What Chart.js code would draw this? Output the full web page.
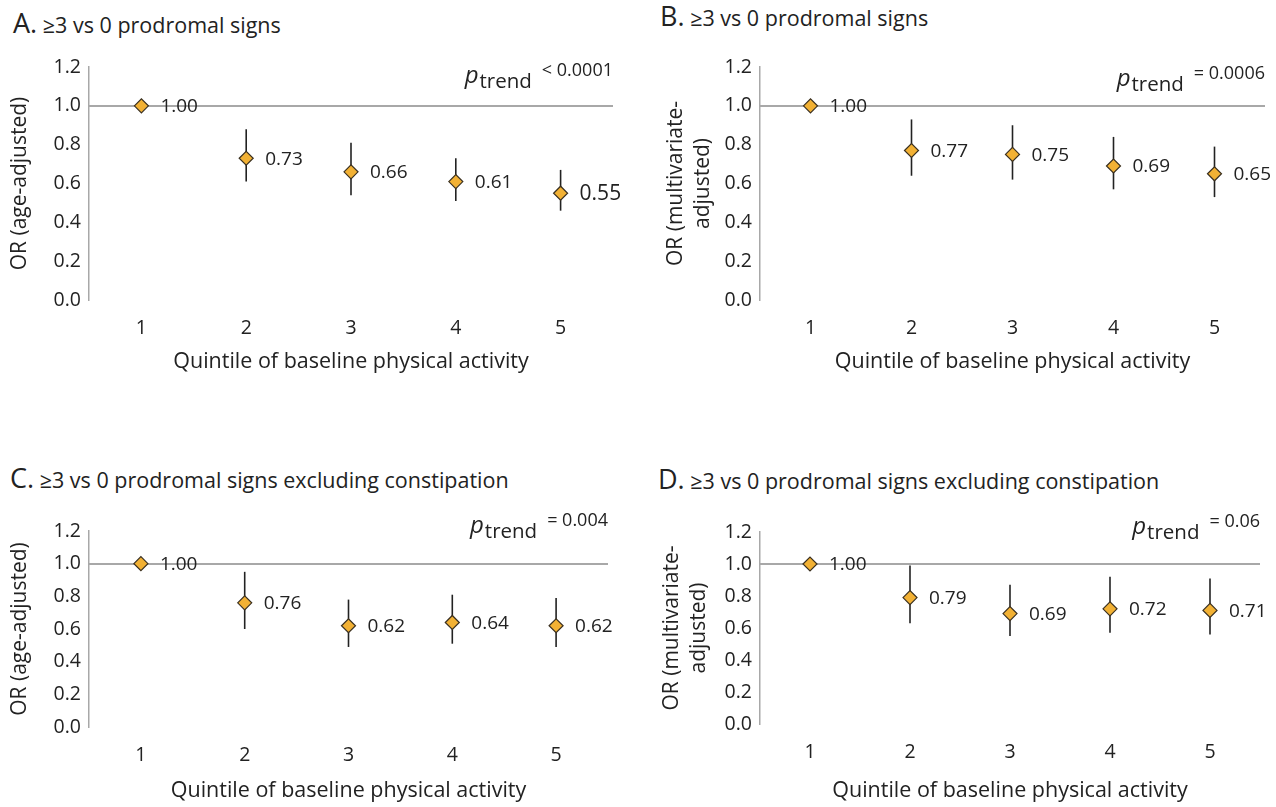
<!DOCTYPE html>
<html>
<head>
<meta charset="utf-8">
<script src="https://cdn.jsdelivr.net/npm/chart.js@4.4.1/dist/chart.umd.min.js"></script>
<style>
  body { margin: 0; background: #fff; font-family: "Open Sans", sans-serif; }
  #page { position: relative; width: 1276px; height: 807px; overflow: hidden; }
  .panel-title { position: absolute; color: #222; font-size: 21.5px; line-height: 1; white-space: nowrap; }
  .panel-title b { font-weight: normal; font-size: 27px; }
  .box { position: absolute; }
</style>
</head>
<body>
<div id="page"></div>
<script>
// quintile categories and y ticks
const quintiles = [1, 2, 3, 4, 5];
const yTicks = [0.0, 0.2, 0.4, 0.6, 0.8, 1.0, 1.2];
const referenceOR = 1.0;

// A. >=3 vs 0 prodromal signs, age-adjusted
const orA = [1.00, 0.73, 0.66, 0.61, 0.55];
const lowA = [null, 0.61, 0.54, 0.51, 0.46];
const highA = [null, 0.88, 0.81, 0.73, 0.67];

// B. >=3 vs 0 prodromal signs, multivariate-adjusted
const orB = [1.00, 0.77, 0.75, 0.69, 0.65];
const lowB = [null, 0.64, 0.62, 0.57, 0.53];
const highB = [null, 0.93, 0.90, 0.84, 0.79];

// C. excluding constipation, age-adjusted
const orC = [1.00, 0.76, 0.62, 0.64, 0.62];
const lowC = [null, 0.60, 0.49, 0.51, 0.49];
const highC = [null, 0.95, 0.78, 0.81, 0.79];

// D. excluding constipation, multivariate-adjusted
const orD = [1.00, 0.79, 0.69, 0.72, 0.71];
const lowD = [null, 0.63, 0.55, 0.57, 0.56];
const highD = [null, 0.99, 0.87, 0.92, 0.91];

const pTrend = ["< 0.0001", "= 0.0006", "= 0.004", "= 0.06"];

const panels = [
  { letter: "A.", title: "≥3 vs 0 prodromal signs", yTitle: "OR (age-adjusted)",
    or: orA, low: lowA, high: highA, p: pTrend[0],
    titlePos: [13, 9], box: [0, 40, 640, 340], area: [89, 67, 613, 300],
    pAt: 1.092, yTitlePad: 6, xTitlePad: 5, labelSizes: [19, 19, 19, 19, 21] },
  { letter: "B.", title: "≥3 vs 0 prodromal signs", yTitle: ["OR (multivariate-", "adjusted)"],
    or: orB, low: lowB, high: highB, p: pTrend[1],
    titlePos: [660, 2], box: [640, 40, 636, 340], area: [760, 67, 1265, 300],
    pAt: 1.078, yTitlePad: 22, xTitlePad: 5, labelSizes: [19, 19, 19, 19, 19] },
  { letter: "C.", title: "≥3 vs 0 prodromal signs excluding constipation", yTitle: "OR (age-adjusted)",
    or: orC, low: lowC, high: highC, p: pTrend[2],
    titlePos: [10, 464], box: [0, 500, 640, 307], area: [89, 531, 608, 727],
    pAt: 1.157, yTitlePad: 6, xTitlePad: 3, labelSizes: [19, 19, 19, 19, 19] },
  { letter: "D.", title: "≥3 vs 0 prodromal signs excluding constipation", yTitle: ["OR (multivariate-", "adjusted)"],
    or: orD, low: lowD, high: highD, p: pTrend[3],
    titlePos: [658, 465], box: [640, 500, 636, 307], area: [760, 532, 1260, 724],
    pAt: 1.154, yTitlePad: 18, xTitlePad: 3, labelSizes: [19, 19, 19, 19, 19] }
];

const page = document.getElementById("page");

// reference line, CI whiskers, value labels and the p-trend note
const forestPlugin = {
  id: "forest",
  beforeDatasetsDraw(chart) {
    const ctx = chart.ctx;
    const x = chart.scales.x, y = chart.scales.y;
    const cfg = chart.options.plugins.forest;
    ctx.save();
    ctx.strokeStyle = "#a8a8a8";
    ctx.lineWidth = 2;
    const yr = Math.round(y.getPixelForValue(referenceOR));
    ctx.beginPath();
    ctx.moveTo(chart.chartArea.left, yr);
    ctx.lineTo(chart.chartArea.right, yr);
    ctx.stroke();

    ctx.strokeStyle = "#222";
    ctx.lineWidth = 1.6;
    quintiles.forEach((q, i) => {
      if (cfg.low[i] == null) return;
      const px = x.getPixelForValue(q);
      ctx.beginPath();
      ctx.moveTo(px, y.getPixelForValue(cfg.low[i]));
      ctx.lineTo(px, y.getPixelForValue(cfg.high[i]));
      ctx.stroke();
    });
    ctx.restore();
  },
  afterDatasetsDraw(chart) {
    const ctx = chart.ctx;
    const x = chart.scales.x, y = chart.scales.y;
    const cfg = chart.options.plugins.forest;
    ctx.save();
    ctx.fillStyle = "#222";
    ctx.textBaseline = "middle";
    ctx.textAlign = "left";
    quintiles.forEach((q, i) => {
      ctx.font = cfg.labelSizes[i] + 'px "Open Sans"';
      ctx.fillText(cfg.or[i].toFixed(2), x.getPixelForValue(q) + 19, y.getPixelForValue(cfg.or[i]) + 1);
    });

    // p_trend with subscript and superscript
    const right = chart.chartArea.right;
    const base = y.getPixelForValue(cfg.pAt);
    ctx.textBaseline = "alphabetic";
    ctx.textAlign = "right";
    ctx.font = '18px "Open Sans"';
    ctx.fillText(cfg.p, right, base - 12);
    const supW = ctx.measureText(cfg.p).width;
    ctx.font = '20.5px "Open Sans"';
    const subRight = right - supW - 10;
    ctx.fillText("trend", subRight, base);
    const subW = ctx.measureText("trend").width;
    ctx.font = 'italic 24px "Open Sans"';
    ctx.fillText("p", subRight - subW - 1, base - 5);
    ctx.restore();
  }
};

panels.forEach(pn => {
  const t = document.createElement("div");
  t.className = "panel-title";
  t.style.left = pn.titlePos[0] + "px";
  t.style.top = pn.titlePos[1] + "px";
  t.innerHTML = "<b>" + pn.letter + "</b> " + pn.title;
  page.appendChild(t);

  const [bx, by, bw, bh] = pn.box;
  const [al, at, ar, ab] = pn.area;
  const box = document.createElement("div");
  box.className = "box";
  box.style.left = bx + "px";
  box.style.top = by + "px";
  box.style.width = bw + "px";
  box.style.height = bh + "px";
  const canvas = document.createElement("canvas");
  box.appendChild(canvas);
  page.appendChild(box);

  const yAxisW = al - bx;
  const xAxisH = by + bh - ab;

  new Chart(canvas, {
    type: "scatter",
    data: {
      datasets: [{
        data: quintiles.map((q, i) => ({ x: q, y: pn.or[i] })),
        pointStyle: "rectRot",
        pointRadius: 7,
        pointHoverRadius: 7,
        backgroundColor: "#f2b134",
        borderColor: "#3a3020",
        borderWidth: 1.2
      }]
    },
    options: {
      responsive: true,
      maintainAspectRatio: false,
      animation: false,
      events: [],
      layout: { padding: { top: at - by, right: bx + bw - ar, left: 0, bottom: 0 } },
      plugins: {
        legend: { display: false },
        tooltip: { enabled: false },
        forest: { or: pn.or, low: pn.low, high: pn.high, p: pn.p, pAt: pn.pAt, labelSizes: pn.labelSizes }
      },
      scales: {
        x: {
          type: "linear",
          min: 0.5, max: 5.5,
          afterFit: s => { s.height = xAxisH; },
          afterBuildTicks: s => { s.ticks = quintiles.map(v => ({ value: v })); },
          grid: { display: false, drawTicks: false },
          border: { display: false },
          ticks: { color: "#222", font: { family: "Open Sans", size: 19.5 }, padding: 17 },
          title: {
            display: true,
            text: "Quintile of baseline physical activity",
            color: "#222",
            font: { family: "Open Sans", size: 21.5 },
            padding: { bottom: pn.xTitlePad }
          }
        },
        y: {
          min: 0, max: 1.2,
          afterFit: s => { s.width = yAxisW; },
          afterBuildTicks: s => { s.ticks = yTicks.map(v => ({ value: v })); },
          grid: { display: false, drawTicks: false },
          border: { display: true, color: "#a8a8a8", width: 1.5 },
          ticks: {
            color: "#222",
            font: { family: "Open Sans", size: 19.5 },
            padding: 8,
            callback: v => v.toFixed(1)
          },
          title: {
            display: true,
            text: pn.yTitle,
            color: "#222",
            font: { family: "Open Sans", size: 21, lineHeight: 1.3 },
            padding: { top: pn.yTitlePad }
          }
        }
      }
    },
    plugins: [forestPlugin]
  });
});
</script>
</body>
</html>
